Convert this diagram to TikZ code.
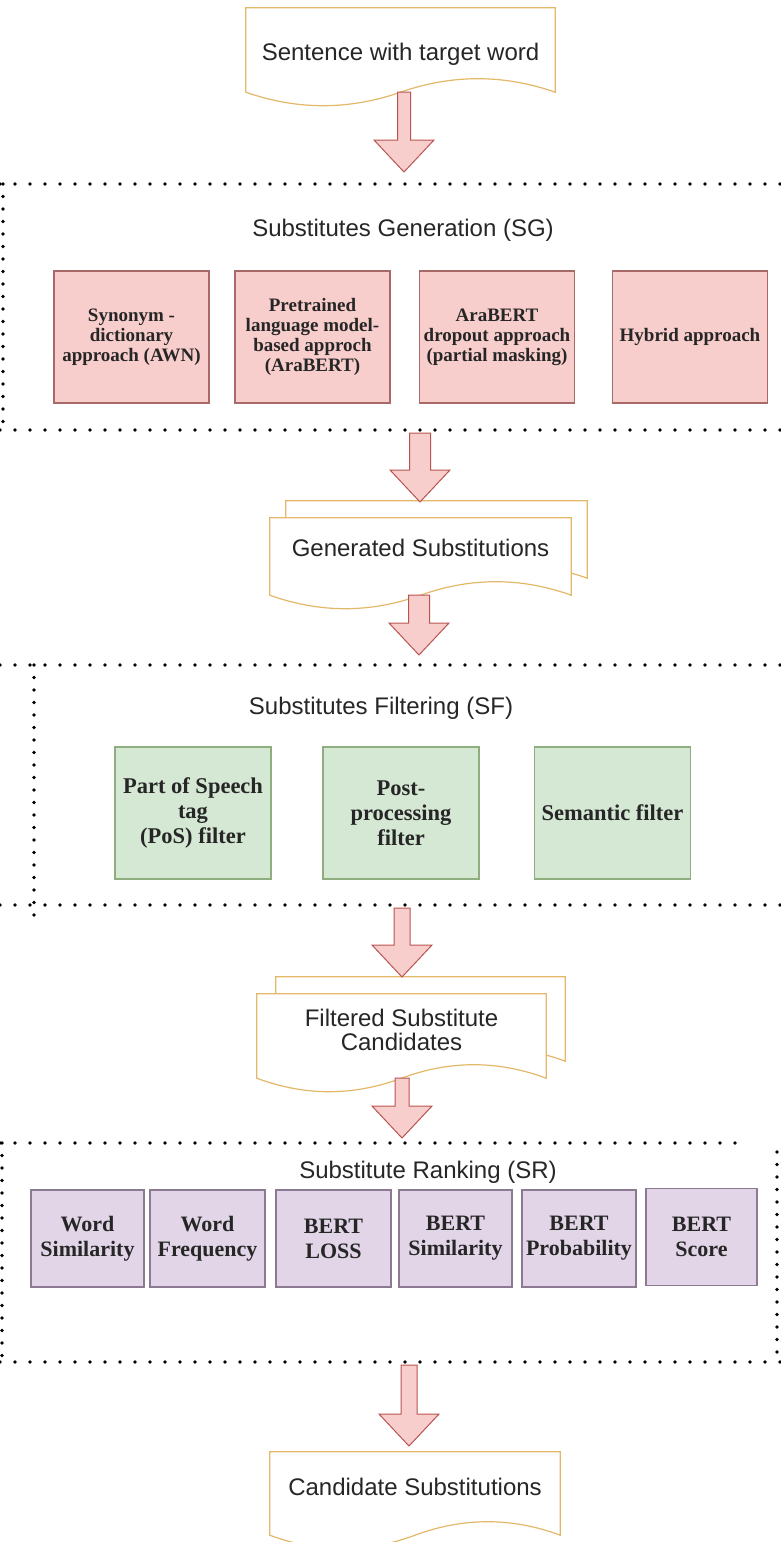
\documentclass[tikz,border=0pt]{standalone}
\usepackage{fontspec}
\setmainfont{Liberation Serif}
\setsansfont{Liberation Sans}
\usetikzlibrary{calc,backgrounds}
\definecolor{docline}{HTML}{E3B869}
\definecolor{arrowfill}{HTML}{F8CECC}
\definecolor{arrowline}{HTML}{B85450}
\definecolor{sgfill}{HTML}{F8CECC}
\definecolor{sgline}{HTML}{A86A68}
\definecolor{sffill}{HTML}{D5E8D4}
\definecolor{sfline}{HTML}{8FAE80}
\definecolor{srfill}{HTML}{E1D5E7}
\definecolor{srline}{HTML}{8C7A92}
\definecolor{textgray}{HTML}{262626}
\tikzstyle{doc}=[draw=none, align=center, text=textgray, font=\sffamily\fontsize{24}{24}\selectfont]
\tikzstyle{doc line}=[draw=docline, fill=white, line width=1.2pt]
\tikzstyle{title}=[align=center, text=textgray, font=\sffamily\fontsize{24}{28}\selectfont]
\tikzstyle{sg box}=[draw=sgline, fill=sgfill, line width=1.2pt, minimum width=155pt, minimum height=132pt, inner sep=1pt, align=center, text=textgray, font=\bfseries\fontsize{19}{20}\selectfont]
\tikzstyle{sf box}=[draw=sfline, fill=sffill, line width=1.2pt, minimum width=156pt, minimum height=132pt, inner sep=1pt, align=center, text=textgray, font=\bfseries\fontsize{22.5}{25}\selectfont]
\tikzstyle{sr box}=[draw=srline, fill=srfill, line width=1.2pt, minimum height=97pt, inner sep=1pt, align=center, text=textgray, font=\bfseries\fontsize{22}{25}\selectfont]
\tikzstyle{hdots}=[line width=3.8pt, line cap=round, dash pattern=on 0pt off 15pt]
\tikzstyle{vdots}=[line width=3.8pt, line cap=round, dash pattern=on 0pt off 12.5pt]
\tikzstyle{big arrow}=[draw=arrowline, fill=arrowfill, line width=1pt, line join=miter]
% outline of a document with a wavy bottom
\newcommand\docpath[1]{(#1.north west) -- (#1.north east) -- (#1.south east)
  .. controls ($(#1.south east)!1/6!(#1.south west)+(0,-18)$) and ($(#1.south east)!1/3!(#1.south west)+(0,-18)$) .. (#1.south)
  .. controls ($(#1.south)!1/3!(#1.south west)+(0,18)$) and ($(#1.south)!2/3!(#1.south west)+(0,18)$) .. (#1.south west) -- cycle}
% block arrow: [half shaft] {from} {tip}
\newcommand\fatarrow[3][7]{\filldraw[big arrow] let \p1=(#2), \p2=(#3) in
  (\x2-#1pt,\y1) -- (\x2-#1pt,\y2+32pt) -- (\x2-30pt,\y2+32pt) -- (\x2,\y2)
  -- (\x2+30pt,\y2+32pt) -- (\x2+#1pt,\y2+32pt) -- (\x2+#1pt,\y1) -- cycle;}

\begin{document}
\begin{tikzpicture}[x=1pt, y=-1pt]
	\path[use as bounding box] (0,0) rectangle (780,1542);
	
	% Documents
	\node[doc, minimum width=309pt, minimum height=84pt, label={[doc, name=d1t, yshift=-4.4pt]center:Sentence with target word}] (d1) at (400.5,50) {};
	\node[doc, minimum width=301pt, minimum height=77pt, label={[doc, name=d2t, yshift=8.5pt]center:Generated Substitutions}] (d2) at (420.5,556.5) {};
	\node[doc, minimum width=301pt, minimum height=77pt] (d2b) at ([shift={(16,-17)}]d2.center) {};
	\node[doc, minimum width=289pt, minimum height=84pt, label={[doc, name=d3t, yshift=6pt]center:{Filtered Substitute\\Candidates}}] (d3) at (401.5,1036) {};
	\node[doc, minimum width=289pt, minimum height=84pt] (d3b) at ([shift={(19,-17)}]d3.center) {};
	\node[doc, minimum width=290pt, minimum height=83pt, label={[doc, name=d4t, yshift=6.5pt]center:Candidate Substitutions}] (d4) at (415,1493.5) {};
	\begin{pgfonlayer}{background}
		\foreach \d in {d1,d2b,d2,d3b,d3,d4}
		\draw[doc line] \docpath{\d};
	\end{pgfonlayer}
	
	% Dotted frames
	\draw[hdots] (0,184) -- (790,184);
	\draw[vdots] (3,184) -- (3,430);
	\draw[hdots] (0,430) -- (790,430);
	
	\draw[hdots] (0,665) -- (790,665);
	\draw[vdots] (34,665) -- (34,918);
	\draw[hdots] (0,905) -- (790,905);
	
	\draw[hdots] (0,1143) -- (744,1143);
	\draw[vdots] (2,1143) -- (2,1362);
	\draw[vdots] (777,1152) -- (777,1362);
	\draw[hdots] (0,1362) -- (780,1362);
	
	% Titles
	\node[title] (sg) at (403,230) {Substitutes Generation (SG)};
	\node[title] (sf) at (381,708) {Substitutes Filtering (SF)};
	\node[title] (sr) at (428,1172) {Substitute Ranking (SR)};
	
	% Generation boxes
	\foreach \pos/\label/\name in {
		{(131.5,337)/sg1/{Synonym -\\dictionary\\approach (AWN)}},
		{(312.5,337)/sg2/{Pretrained\\language model-\\based approch\\(AraBERT)}},
		{(497,337)/sg3/{AraBERT\\dropout approach\\(partial masking)}},
		{(690,337)/sg4/{Hybrid approach}}}
	\node[sg box] (\label) at \pos {\name};
	
	% Filtering boxes
	\foreach \pos/\label/\name in {
		{(193,813)/sf1/{Part of Speech\\tag\\(PoS) filter}},
		{(401,813)/sf2/{Post-\\processing\\filter}},
		{(612.5,813)/sf3/{Semantic filter}}}
	\node[sf box] (\label) at \pos {\name};
	
	% Ranking boxes
	\foreach \pos/\label/\boxw/\name in {
		{(87.5,1238.5)/sr1/113/{Word\\Similarity}},
		{(207.5,1238.5)/sr2/115/{Word\\Frequency}},
		{(333.5,1238.5)/sr3/115/{BERT\\LOSS}},
		{(455.5,1238.5)/sr4/113/{BERT\\Similarity}},
		{(579,1238.5)/sr5/114/{BERT\\Probability}},
		{(701.5,1237)/sr6/111/{BERT\\Score}}}
	\node[sr box, minimum width=\boxw pt] (\label) at \pos {\name};
	
	% Arrow ends
	\foreach \pos/\label in {
		{(404,172)/t1}, {(419,433)/s2}, {(420,502)/t2}, {(419,655)/t3},
		{(404,908)/s4}, {(402,977)/t4}, {(402,1138)/t5},
		{(410,1365)/s6}, {(409,1446)/t6}}
	\node[coordinate] (\label) at \pos {};
	
	\fatarrow[6.5]{d1.south}{t1}
	\fatarrow[10.5]{s2}{t2}
	\fatarrow[10.5]{d2.south}{t3}
	\fatarrow[8]{s4}{t4}
	\fatarrow[7]{d3.south}{t5}
	\fatarrow[8]{s6}{t6}
\end{tikzpicture}
\end{document}
